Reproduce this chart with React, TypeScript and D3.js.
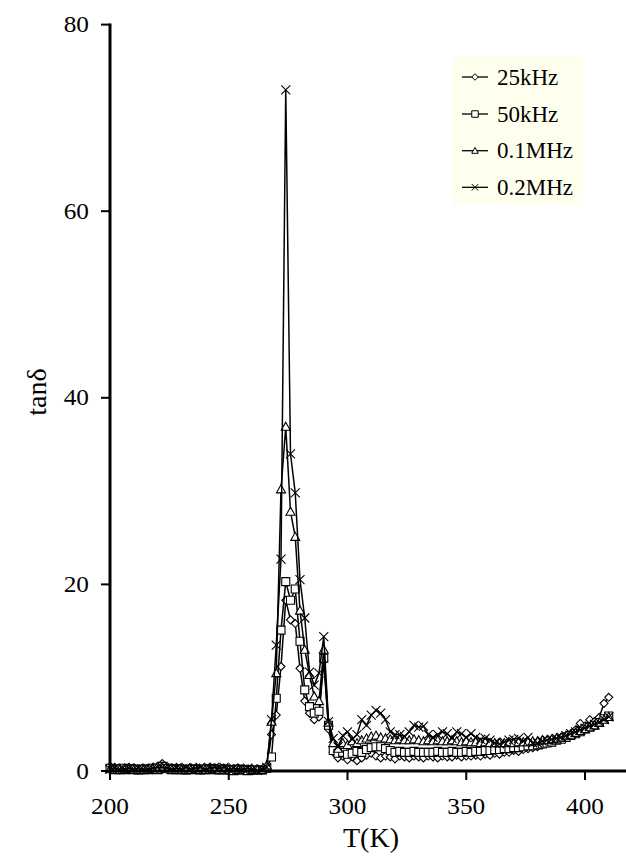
import React from "react";
import * as d3 from "d3";

// Temperature (K)
const temps = [
  200, 202, 204, 206, 208, 210, 212, 214, 216, 218, 220, 222, 224, 226, 228, 230, 232, 234, 236, 238,
  240, 242, 244, 246, 248, 250, 252, 254, 256, 258, 260, 262, 264, 266, 268, 270, 272, 274, 276, 278,
  280, 282, 284, 286, 288, 290, 292, 294, 296, 298, 300, 302, 304, 306, 308, 310, 312, 314, 316, 318,
  320, 322, 324, 326, 328, 330, 332, 334, 336, 338, 340, 342, 344, 346, 348, 350, 352, 354, 356, 358,
  360, 362, 364, 366, 368, 370, 372, 374, 376, 378, 380, 382, 384, 386, 388, 390, 392, 394, 396, 398,
  400, 402, 404, 406, 408, 410,
];

// tan delta, 25 kHz
const tan25k = [
  0.5, 0.4, 0.3, 0.3, 0.4, 0.3, 0.2, 0.3, 0.3, 0.4, 0.5, 0.8, 0.5, 0.3, 0.4, 0.3, 0.2, 0.3, 0.3, 0.2,
  0.3, 0.4, 0.3, 0.2, 0.3, 0.2, 0.2, 0.3, 0.2, 0.1, 0.2, 0.2, 0.1, 0.3, 3.9, 6.0, 11.2, 18.3, 16.2, 15.8,
  11.0, 7.5, 6.2, 5.5, 5.8, 11.8, 4.5, 2.0, 1.4, 1.6, 1.2, 1.5, 1.1, 1.4, 1.7, 1.9, 1.6, 1.4, 1.6, 1.5,
  1.3, 1.6, 1.5, 1.4, 1.6, 1.5, 1.4, 1.6, 1.5, 1.4, 1.6, 1.5, 1.5, 1.7, 1.5, 1.6, 1.6, 1.7, 1.6, 1.8,
  1.7, 1.9, 1.8, 2.0, 2.0, 2.2, 2.1, 2.3, 2.4, 2.5, 2.6, 2.8, 3.0, 3.2, 3.4, 3.6, 3.8, 4.0, 4.4, 5.1,
  4.8, 5.5, 5.3, 5.75, 7.25, 7.9,
];

// tan delta, 50 kHz
const tan50k = [
  0.3, 0.2, 0.2, 0.3, 0.2, 0.2, 0.1, 0.2, 0.2, 0.3, 0.3, 0.5, 0.3, 0.2, 0.2, 0.2, 0.1, 0.2, 0.2, 0.1,
  0.2, 0.2, 0.2, 0.1, 0.2, 0.1, 0.1, 0.2, 0.1, 0.1, 0.1, 0.1, 0.1, 0.3, 1.5, 7.8, 15.1, 20.3, 18.3, 19.5,
  13.9, 8.7, 6.9, 6.2, 6.4, 12.1, 4.9, 2.2, 1.9, 2.0, 1.8, 1.9, 2.1, 2.0, 2.3, 2.5, 2.6, 2.6, 2.4, 2.2,
  2.0, 2.1, 2.0, 2.0, 2.1, 2.0, 2.0, 2.0, 2.0, 2.1, 2.0, 2.0, 2.1, 2.0, 2.0, 2.1, 2.0, 2.1, 2.1, 2.2,
  2.2, 2.3, 2.3, 2.4, 2.4, 2.5, 2.5, 2.6, 2.7, 2.7, 2.8, 2.9, 3.0, 3.1, 3.3, 3.4, 3.6, 3.8, 4.0, 4.2,
  4.5, 4.7, 4.9, 5.2, 5.6, 5.9,
];

// tan delta, 0.1 MHz
const tan01M = [
  0.2, 0.1, 0.1, 0.1, 0.2, 0.1, 0.1, 0.1, 0.1, 0.2, 0.1, 0.3, 0.2, 0.1, 0.1, 0.1, 0.1, 0.1, 0.2, 0.1,
  0.1, 0.1, 0.2, 0.1, 0.1, 0.1, 0.0, 0.1, 0.1, 0.0, 0.1, 0.1, 0.1, 0.6, 5.3, 10.5, 30.2, 36.9, 27.8, 25.1,
  17.2, 13.0, 10.3, 8.0, 7.5, 13.0, 5.2, 3.0, 2.4, 3.0, 2.8, 3.2, 3.0, 3.3, 3.5, 3.7, 3.8, 3.6, 3.5, 3.4,
  3.3, 3.4, 3.3, 3.3, 3.4, 3.3, 3.2, 3.3, 3.2, 3.3, 3.2, 3.2, 3.3, 3.2, 3.1, 3.2, 3.1, 3.1, 3.0, 3.1,
  3.0, 3.0, 3.0, 3.0, 3.1, 3.0, 3.1, 3.1, 3.1, 3.2, 3.2, 3.3, 3.3, 3.4, 3.5, 3.6, 3.8, 3.9, 4.1, 4.3,
  4.5, 4.7, 4.9, 5.2, 5.5, 5.8,
];

// tan delta, 0.2 MHz
const tan02M = [
  0.2, 0.3, 0.2, 0.2, 0.3, 0.2, 0.3, 0.2, 0.2, 0.3, 0.4, 0.4, 0.3, 0.2, 0.3, 0.2, 0.4, 0.2, 0.3, 0.4,
  0.2, 0.3, 0.4, 0.3, 0.4, 0.2, 0.3, 0.2, 0.2, 0.3, 0.2, 0.1, 0.2, 0.4, 5.5, 13.5, 22.7, 73.0, 34.0, 29.8,
  20.5, 16.4, 10.6, 9.2, 10.5, 14.4, 5.3, 3.5, 2.6, 3.8, 4.2, 3.4, 3.9, 5.5, 4.9, 6.0, 6.5, 6.2, 5.5, 4.2,
  3.9, 3.9, 3.7, 4.2, 4.9, 4.7, 4.8, 3.9, 3.6, 3.9, 4.2, 4.0, 3.5, 4.2, 4.0, 3.6, 4.0, 3.6, 3.4, 3.5,
  3.3, 3.0, 2.9, 3.1, 3.3, 3.4, 3.5, 3.2, 3.6, 3.0, 3.0, 3.2, 3.3, 3.4, 3.5, 3.6, 3.8, 4.0, 4.2, 4.4,
  4.6, 4.8, 5.0, 5.2, 5.5, 5.8,
];

const seriesNames = ["25kHz", "50kHz", "0.1MHz", "0.2MHz"];
const seriesMarkers = ["diamond", "square", "triangle", "cross"];
const xTicks = [200, 250, 300, 350, 400];
const yTicks = [0, 20, 40, 60, 80];

const FONT = "'Liberation Serif', 'Times New Roman', serif";

function markerPath(kind: string, s: number): string {
  const h = s / 2;
  switch (kind) {
    case "diamond":
      return `M0,${-h}L${h},0L0,${h}L${-h},0Z`;
    case "square":
      return `M${-h},${-h}H${h}V${h}H${-h}Z`;
    case "triangle":
      return `M0,${-h}L${h},${h * 0.8}L${-h},${h * 0.8}Z`;
    default:
      return `M${-h},${-h}L${h},${h}M${h},${-h}L${-h},${h}`;
  }
}

export default function App() {
  const W = 626;
  const H = 860;
  const x = d3.scaleLinear().domain([200, 420]).range([110, 632.5]);
  const y = d3.scaleLinear().domain([0, 80]).range([771, 24.6]);

  const values = [tan25k, tan50k, tan01M, tan02M];
  const sizes = [8, 8, 9, 9];

  const line = d3
    .line<number>()
    .x((_, i) => x(temps[i]))
    .y((v) => y(v));

  const legendRows = [77, 114, 150.7, 187.3];
  const tickScale = 1.1;

  return (
    <svg
      width={W}
      height={H}
      style={{ position: "absolute", left: 0, top: 0, background: "#fff" }}
      fontFamily={FONT}
    >
      {/* data series */}
      {values.map((vals, si) => (
        <g key={seriesNames[si]}>
          <path d={line(vals) ?? ""} fill="none" stroke="#000" strokeWidth={1.5} />
          {vals.map((v, i) => (
            <path
              key={i}
              d={markerPath(seriesMarkers[si], sizes[si])}
              transform={`translate(${x(temps[i])},${y(v)})`}
              fill={seriesMarkers[si] === "cross" ? "none" : "#fff"}
              stroke="#000"
              strokeWidth={1.1}
            />
          ))}
        </g>
      ))}

      {/* axes */}
      <line x1={x(200)} x2={W} y1={y(0)} y2={y(0)} stroke="#000" strokeWidth={3} />
      <line x1={x(200)} x2={x(200)} y1={y(80) - 1} y2={y(0) + 1.5} stroke="#000" strokeWidth={3} />
      {xTicks.map((t) => (
        <g key={t}>
          <line x1={x(t)} x2={x(t)} y1={y(0)} y2={y(0) + 9} stroke="#000" strokeWidth={2} />
          <text
            transform={`translate(${x(t)},814) scale(${tickScale},1)`}
            textAnchor="middle"
            fontSize={23}
          >
            {t}
          </text>
        </g>
      ))}
      {yTicks.map((t) => (
        <g key={t}>
          <line x1={x(200) - 9} x2={x(200)} y1={y(t)} y2={y(t)} stroke="#000" strokeWidth={2} />
          <text
            transform={`translate(89,${y(t) + 7.5}) scale(${tickScale},1)`}
            textAnchor="end"
            fontSize={23}
          >
            {t}
          </text>
        </g>
      ))}

      <text x={371} y={847} textAnchor="middle" fontSize={28}>
        T(K)
      </text>
      <text transform={`translate(46,392) rotate(-90)`} textAnchor="middle" fontSize={28}>
        tanδ
      </text>

      {/* legend */}
      <rect x={453} y={57} width={129} height={148} fill="#FFFFEE" />
      {seriesNames.map((name, i) => (
        <g key={name} transform={`translate(0,${legendRows[i]})`}>
          <line x1={462} x2={488} y1={0} y2={0} stroke="#000" strokeWidth={1.3} />
          <path
            d={markerPath(seriesMarkers[i], 6.5)}
            transform="translate(475,0)"
            fill={seriesMarkers[i] === "cross" ? "none" : "#fff"}
            stroke="#000"
            strokeWidth={1}
          />
          <text x={497} y={7.5} fontSize={23}>
            {name}
          </text>
        </g>
      ))}
    </svg>
  );
}
